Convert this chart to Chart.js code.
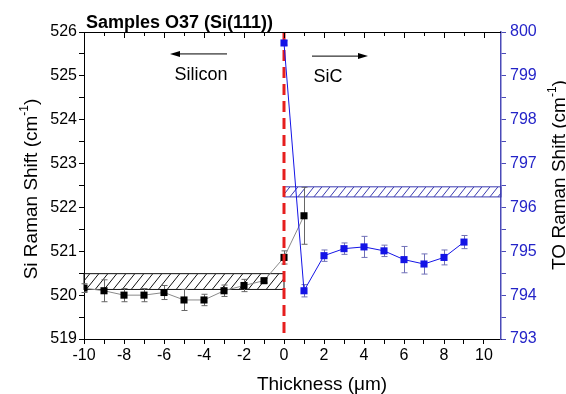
<!DOCTYPE html>
<html>
<head>
<meta charset="utf-8">
<script src="https://cdn.jsdelivr.net/npm/chart.js@4/dist/chart.umd.min.js"></script>
<style>
  html, body { margin: 0; padding: 0; background: #fff; }
  #wrap { width: 566px; height: 394px; }
</style>
</head>
<body>
<div id="wrap"><canvas id="chart" width="566" height="394"></canvas></div>
<script>
// Si Raman shift (left axis) and SiC TO shift (right axis) across thickness
var siThickness = [-10, -9, -8, -7, -6, -5, -4, -3, -2, -1, 0, 1];
var siShift = [520.16, 520.1, 520.0, 520.0, 520.06, 519.89, 519.89, 520.1, 520.22, 520.33, 520.86, 521.81];
var siError = [0.1, 0.25, 0.15, 0.15, 0.16, 0.24, 0.13, 0.13, 0.14, 0.05, 0.15, 0.65];

var sicThickness = [0, 1, 2, 3, 4, 5, 6, 7, 8, 9];
var sicShift = [799.75, 794.1, 794.9, 795.06, 795.1, 795.01, 794.81, 794.71, 794.86, 795.21];
var sicError = [0.05, 0.14, 0.13, 0.13, 0.24, 0.13, 0.3, 0.23, 0.17, 0.15];

// reference bands (bulk values), x range and shift range
var siBandX = [-10, 0];
var siBandY = [520.13, 520.49];
var sicBandX = [0, 10.85];
var sicBandY = [796.24, 796.47];

var xTicks = [-10, -9, -8, -7, -6, -5, -4, -3, -2, -1, 0, 1, 2, 3, 4, 5, 6, 7, 8, 9, 10];
var siTicks = [519, 519.5, 520, 520.5, 521, 521.5, 522, 522.5, 523, 523.5, 524, 524.5, 525, 525.5, 526];
var sicTicks = [793, 793.5, 794, 794.5, 795, 795.5, 796, 796.5, 797, 797.5, 798, 798.5, 799, 799.5, 800];

// direction annotations
var arrowLabels = ['Silicon', 'SiC'];
var arrowFrom = [-2.85, 1.4];
var arrowTo = [-5.7, 4.2];
var arrowY = [525.5, 525.45];
var labelX = [-4.15, 2.2];
var labelY = [525.02, 524.97];

var FONT = '"Liberation Sans", Arial, sans-serif';
var BLUE = '#1414e6';
var AXIS_BLUE = '#4a4ab8';

function hatchRect(ctx, x0, y0, x1, y1, color, spacing) {
  ctx.save();
  ctx.beginPath();
  ctx.rect(x0, y0, x1 - x0, y1 - y0);
  ctx.clip();
  ctx.strokeStyle = color;
  ctx.lineWidth = 1;
  ctx.beginPath();
  var h = y1 - y0;
  for (var x = x0 - h; x < x1 + h; x += spacing) {
    ctx.moveTo(x, y1);
    ctx.lineTo(x + h * 0.8, y0);
  }
  ctx.stroke();
  ctx.restore();
  ctx.save();
  ctx.strokeStyle = color;
  ctx.lineWidth = 1;
  ctx.strokeRect(x0, y0, x1 - x0, y1 - y0);
  ctx.restore();
}

function errorBars(ctx, xs, ys, errs, xScale, yScale, color) {
  ctx.save();
  ctx.strokeStyle = color;
  ctx.lineWidth = 1;
  ctx.beginPath();
  for (var i = 0; i < xs.length; i++) {
    var px = Math.round(xScale.getPixelForValue(xs[i])) + 0.5;
    var top = yScale.getPixelForValue(ys[i] + errs[i]);
    var bot = yScale.getPixelForValue(ys[i] - errs[i]);
    ctx.moveTo(px, top); ctx.lineTo(px, bot);
    ctx.moveTo(px - 3, top); ctx.lineTo(px + 3, top);
    ctx.moveTo(px - 3, bot); ctx.lineTo(px + 3, bot);
  }
  ctx.stroke();
  ctx.restore();
}

function rotatedTitle(ctx, x, y, main, sup, tail, size) {
  ctx.save();
  ctx.translate(x, y);
  ctx.rotate(-Math.PI / 2);
  ctx.fillStyle = '#000';
  ctx.textBaseline = 'alphabetic';
  ctx.font = size + 'px ' + FONT;
  var w1 = ctx.measureText(main).width;
  var w3 = ctx.measureText(tail).width;
  ctx.font = Math.round(size * 0.65) + 'px ' + FONT;
  var w2 = ctx.measureText(sup).width;
  var start = -(w1 + w2 + w3) / 2;
  ctx.font = size + 'px ' + FONT;
  ctx.textAlign = 'left';
  ctx.fillText(main, start, 0);
  ctx.fillText(tail, start + w1 + w2, 0);
  ctx.font = Math.round(size * 0.65) + 'px ' + FONT;
  ctx.fillText(sup, start + w1, -size * 0.45);
  ctx.restore();
}

var decorPlugin = {
  id: 'decor',
  beforeDatasetsDraw: function (chart) {
    var ctx = chart.ctx;
    var x = chart.scales.x, y = chart.scales.y, y2 = chart.scales.y2;
    hatchRect(ctx,
      x.getPixelForValue(siBandX[0]), y.getPixelForValue(siBandY[1]),
      x.getPixelForValue(siBandX[1]), y.getPixelForValue(siBandY[0]), '#111', 9);
    hatchRect(ctx,
      x.getPixelForValue(sicBandX[0]), y2.getPixelForValue(sicBandY[1]),
      x.getPixelForValue(sicBandX[1]), y2.getPixelForValue(sicBandY[0]), '#3a3ab0', 8);
    errorBars(ctx, siThickness, siShift, siError, x, y, '#666');
    errorBars(ctx, sicThickness, sicShift, sicError, x, y2, '#7070b8');
  },
  afterDatasetDraw: function (chart, args) {
    if (args.index !== 0) return;
    // boundary marker at zero thickness, drawn above the Si series
    var ctx = chart.ctx, a = chart.chartArea;
    var px = chart.scales.x.getPixelForValue(0);
    ctx.save();
    ctx.strokeStyle = '#e61e1e';
    ctx.lineWidth = 3;
    ctx.setLineDash([11, 6]);
    ctx.beginPath();
    ctx.moveTo(px, a.top + 1);
    ctx.lineTo(px, a.bottom);
    ctx.stroke();
    ctx.restore();
  },
  afterDraw: function (chart) {
    var ctx = chart.ctx, a = chart.chartArea;
    var x = chart.scales.x, y = chart.scales.y;

    // top frame with inward ticks
    ctx.save();
    ctx.strokeStyle = '#000';
    ctx.lineWidth = 1;
    ctx.beginPath();
    ctx.moveTo(a.left, a.top + 0.5);
    ctx.lineTo(a.right, a.top + 0.5);
    xTicks.forEach(function (v) {
      var px = Math.round(x.getPixelForValue(v)) + 0.5;
      ctx.moveTo(px, a.top);
      ctx.lineTo(px, a.top + (v % 2 === 0 ? 6 : 4));
    });
    ctx.stroke();

    // arrows and labels
    ctx.fillStyle = '#000';
    for (var i = 0; i < arrowLabels.length; i++) {
      var x0 = x.getPixelForValue(arrowFrom[i]);
      var x1 = x.getPixelForValue(arrowTo[i]);
      var py = y.getPixelForValue(arrowY[i]);
      var dir = x1 > x0 ? 1 : -1;
      ctx.beginPath();
      ctx.moveTo(x0, py);
      ctx.lineTo(x1 - dir * 8, py);
      ctx.stroke();
      ctx.beginPath();
      ctx.moveTo(x1, py);
      ctx.lineTo(x1 - dir * 10, py - 3);
      ctx.lineTo(x1 - dir * 10, py + 3);
      ctx.closePath();
      ctx.fill();
      ctx.font = '18px ' + FONT;
      ctx.textAlign = 'center';
      ctx.textBaseline = 'middle';
      ctx.fillText(arrowLabels[i], x.getPixelForValue(labelX[i]), y.getPixelForValue(labelY[i]));
    }

    // chart title
    ctx.font = 'bold 18px ' + FONT;
    ctx.textAlign = 'left';
    ctx.textBaseline = 'alphabetic';
    ctx.fillText('Samples O37 (Si(111))', 86, 28);

    // x axis title
    ctx.font = '19px ' + FONT;
    ctx.textAlign = 'center';
    ctx.fillText('Thickness (\u03bcm)', 322, 390);
    ctx.restore();

    rotatedTitle(ctx, 37, 189, 'Si Raman Shift (cm', '-1', ')', 19);
    rotatedTitle(ctx, 565, 175, 'TO Raman Shift (cm', '-1', ')', 19);
  }
};

new Chart(document.getElementById('chart'), {
  type: 'line',
  data: {
    datasets: [
      {
        label: 'Si',
        data: siThickness.map(function (t, i) { return { x: t, y: siShift[i] }; }),
        xAxisID: 'x',
        yAxisID: 'y',
        order: 1,
        borderColor: '#8a8a8a',
        borderWidth: 1,
        pointStyle: 'rect',
        pointRadius: 5,
        pointBackgroundColor: '#000',
        pointBorderColor: '#000',
        pointBorderWidth: 0
      },
      {
        label: 'SiC',
        data: sicThickness.map(function (t, i) { return { x: t, y: sicShift[i] }; }),
        xAxisID: 'x',
        yAxisID: 'y2',
        order: 0,
        borderColor: BLUE,
        borderWidth: 1,
        pointStyle: 'rect',
        pointRadius: 5,
        pointBackgroundColor: BLUE,
        pointBorderColor: BLUE,
        pointBorderWidth: 0
      }
    ]
  },
  options: {
    responsive: false,
    animation: false,
    layout: { padding: { left: 0, right: 0, top: 32, bottom: 0 } },
    plugins: { legend: { display: false }, title: { display: false }, tooltip: { enabled: false } },
    scales: {
      x: {
        type: 'linear',
        position: 'bottom',
        min: -10,
        max: 10.85,
        afterBuildTicks: function (s) { s.ticks = xTicks.map(function (v) { return { value: v }; }); },
        afterFit: function (s) { s.height = 55; },
        ticks: {
          autoSkip: false,
          maxRotation: 0,
          padding: 2,
          color: '#000',
          font: { family: FONT, size: 16 },
          callback: function (v) { return v % 2 === 0 ? String(v) : ''; }
        },
        grid: { drawOnChartArea: false, tickLength: 5, color: '#000' },
        border: { color: '#000', width: 1 }
      },
      y: {
        type: 'linear',
        position: 'left',
        min: 519,
        max: 526,
        afterBuildTicks: function (s) { s.ticks = siTicks.map(function (v) { return { value: v }; }); },
        afterFit: function (s) { s.width = 84; },
        ticks: {
          autoSkip: false,
          padding: 2,
          color: '#000',
          font: { family: FONT, size: 16 },
          callback: function (v) { return v % 1 === 0 ? String(v) : ''; }
        },
        grid: { drawOnChartArea: false, tickLength: 5, color: '#000' },
        border: { color: '#000', width: 1 }
      },
      y2: {
        type: 'linear',
        position: 'right',
        min: 793,
        max: 800,
        afterBuildTicks: function (s) { s.ticks = sicTicks.map(function (v) { return { value: v }; }); },
        afterFit: function (s) { s.width = 65; },
        ticks: {
          autoSkip: false,
          padding: 4,
          color: '#2424c8',
          font: { family: FONT, size: 16 },
          callback: function (v) { return v % 1 === 0 ? String(v) : ''; }
        },
        grid: { drawOnChartArea: false, tickLength: 5, color: AXIS_BLUE },
        border: { color: AXIS_BLUE, width: 1.5 }
      }
    }
  },
  plugins: [decorPlugin]
});
</script>
</body>
</html>
